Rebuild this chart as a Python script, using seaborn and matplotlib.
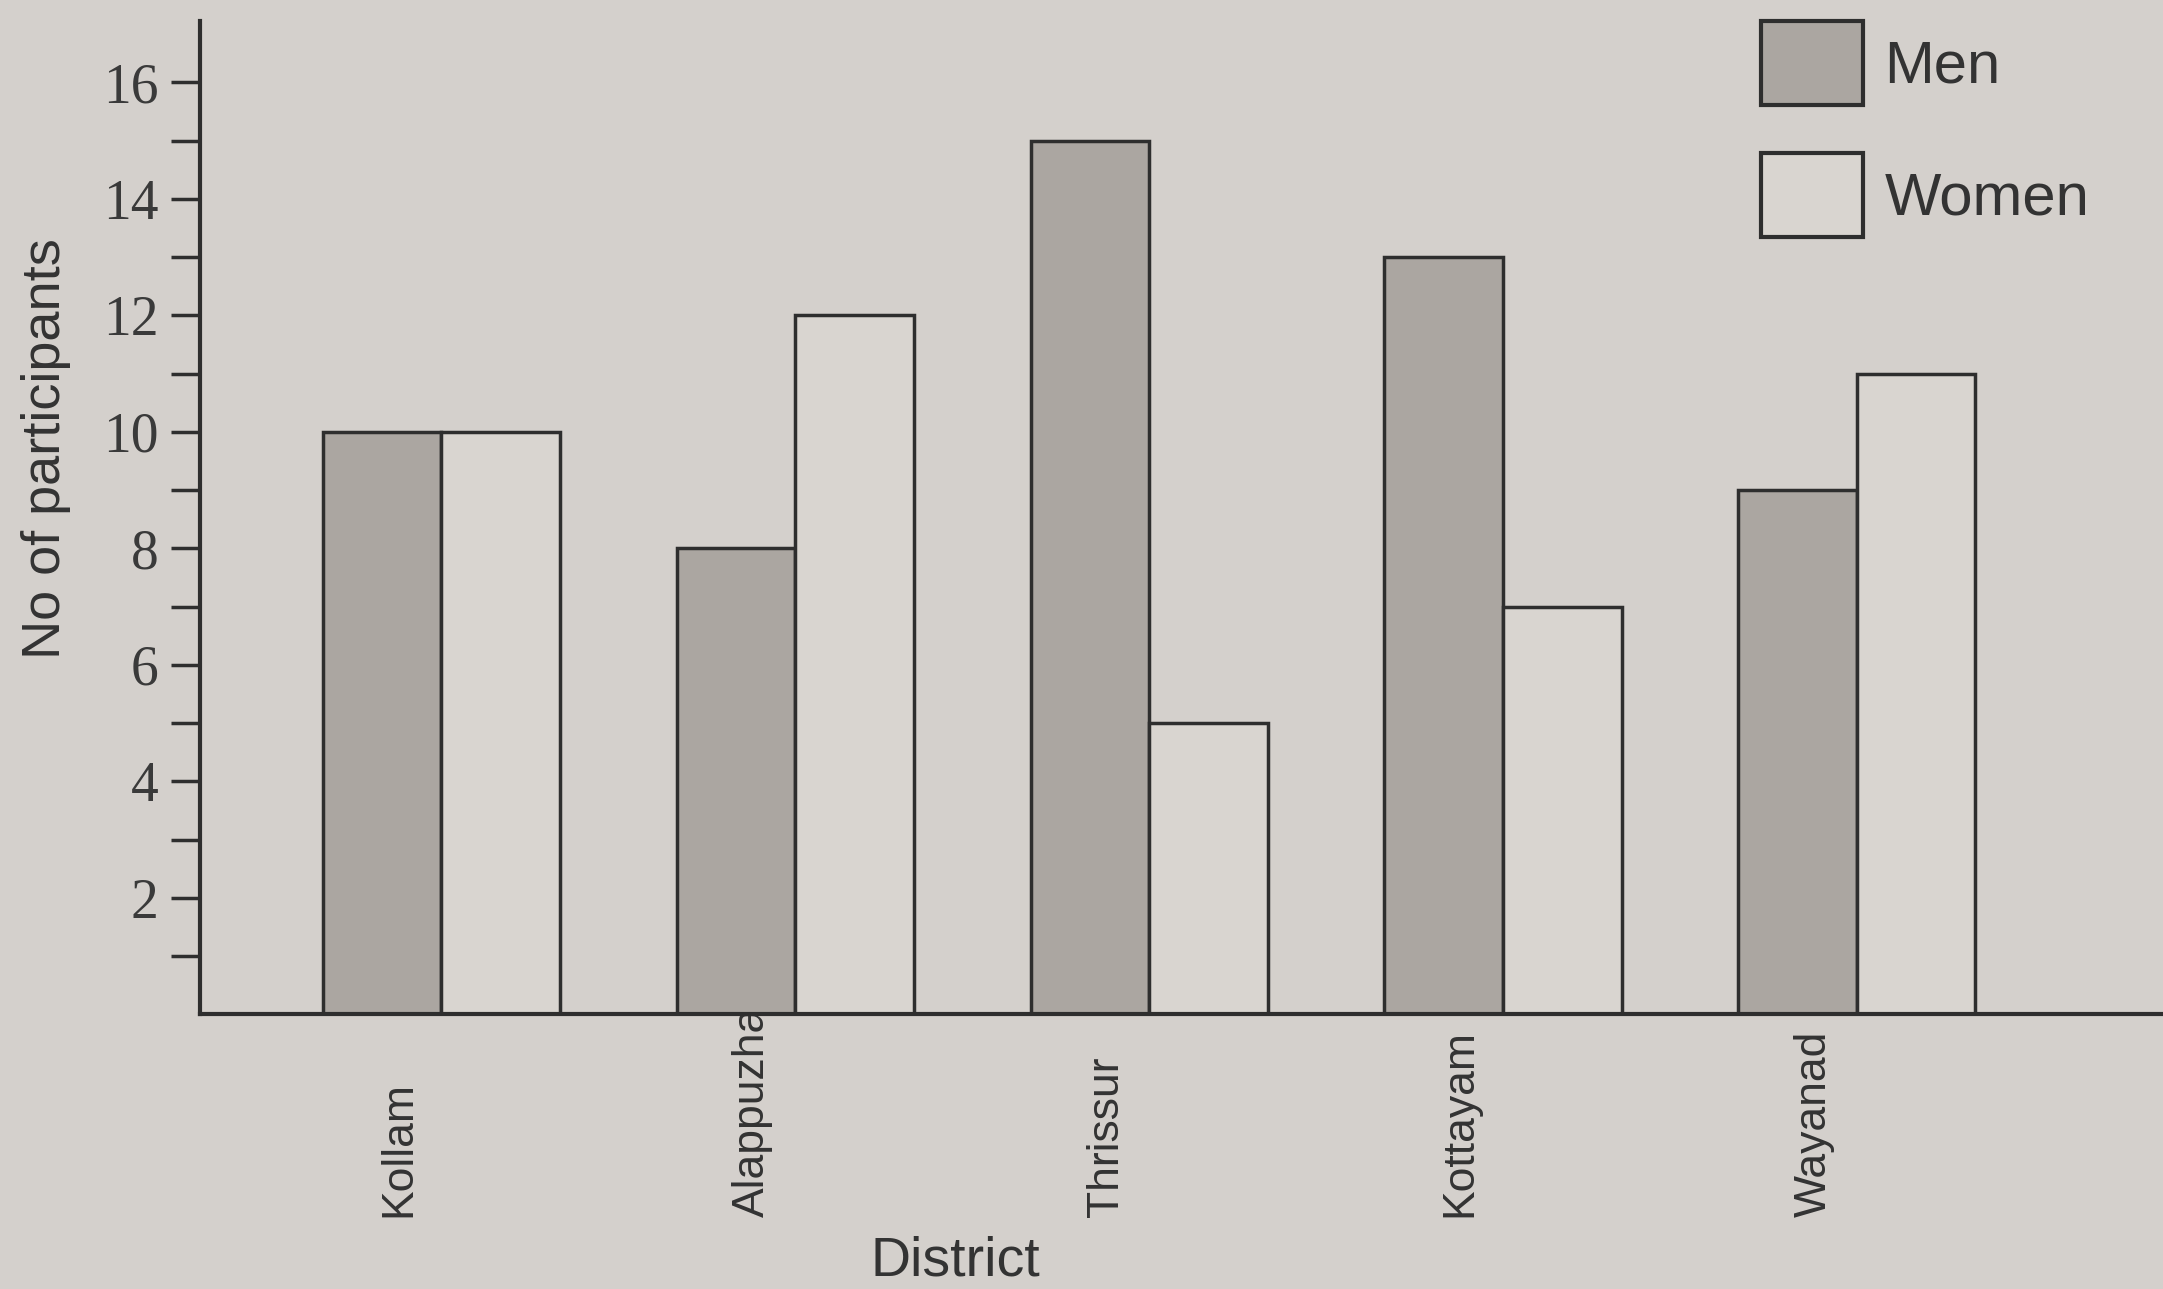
import pandas as pd
import seaborn as sns
import matplotlib.pyplot as plt
import matplotlib.transforms as mtransforms
from matplotlib.ticker import FixedLocator

districts = ["Kollam", "Alappuzha", "Thrissur", "Kottayam", "Wayanad"]
men = [10, 8, 15, 13, 9]
women = [10, 12, 5, 7, 11]
groups = ["Men", "Women"]
ytick_major = [2, 4, 6, 8, 10, 12, 14, 16]
ytick_minor = [1, 3, 5, 7, 9, 11, 13, 15]

df = pd.DataFrame({
    "District": districts * 2,
    "Participants": men + women,
    "Group": ["Men"] * len(districts) + ["Women"] * len(districts),
})

paper = "#d4d0cc"
ink = "#2e2e2e"

sns.set_theme(style="ticks")
plt.rcParams["font.family"] = ["Liberation Sans", "DejaVu Sans"]

fig = plt.figure(figsize=(21.63, 12.89), dpi=100, facecolor=paper)
ax = fig.add_axes([0.0925, 0.213, 0.9075, 0.771])
ax.set_facecolor(paper)

sns.barplot(data=df, x="District", y="Participants", hue="Group",
            hue_order=groups, order=districts,
            palette={"Men": "#aba6a1", "Women": "#d9d5d0"},
            width=0.67, edgecolor=ink, linewidth=2.5, saturation=1, ax=ax)

ax.set_xlim(-0.682, 4.865)
ax.set_ylim(0, 17.06)

# only left and bottom spines, bottom one runs to the edge
sns.despine(ax=ax, top=True, right=True)
for s in ["left", "bottom"]:
    ax.spines[s].set_color(ink)
    ax.spines[s].set_linewidth(3)

# y ticks: labelled even values, plain marks on odd ones, nothing at 0
ax.yaxis.set_major_locator(FixedLocator(ytick_major))
ax.yaxis.set_minor_locator(FixedLocator(ytick_minor))
ax.tick_params(axis="y", which="both", direction="out", length=21, width=2.5,
               color=ink, pad=9)
ax.tick_params(axis="y", which="major", labelsize=40, labelcolor="#3a3a3a")
for lbl in ax.get_yticklabels():
    lbl.set_family(["Liberation Serif", "DejaVu Serif"])

# x tick labels rotated, bottom aligned, shifted a bit left
ax.tick_params(axis="x", length=0, pad=146, labelsize=32, labelcolor="#333333")
offset = mtransforms.ScaledTranslation(-0.43, 0, fig.dpi_scale_trans)
for lbl in ax.get_xticklabels():
    lbl.set_rotation(90)
    lbl.set_va("bottom")
    lbl.set_ha("center")
    lbl.set_transform(lbl.get_transform() + offset)

ax.set_xlabel("District", fontsize=40, color="#333333")
ax.xaxis.set_label_coords(0.385, -0.222)
ax.set_ylabel("No of participants", fontsize=39, color="#333333")
ax.yaxis.set_label_coords(-0.066, 0.569)

handles, labels = ax.get_legend_handles_labels()
ax.get_legend().remove()
leg = fig.legend(handles, labels, loc="upper left", bbox_to_anchor=(0.814, 0.984),
                 frameon=False, fontsize=43, handlelength=1.72, handleheight=1.8,
                 labelspacing=0.8, handletextpad=0.35, borderpad=0, borderaxespad=0)
for h in leg.legend_handles:
    h.set_edgecolor(ink)
    h.set_linewidth(3)
for t in leg.get_texts():
    t.set_color("#333333")

fig.savefig("out.png", dpi=100, facecolor=paper)
